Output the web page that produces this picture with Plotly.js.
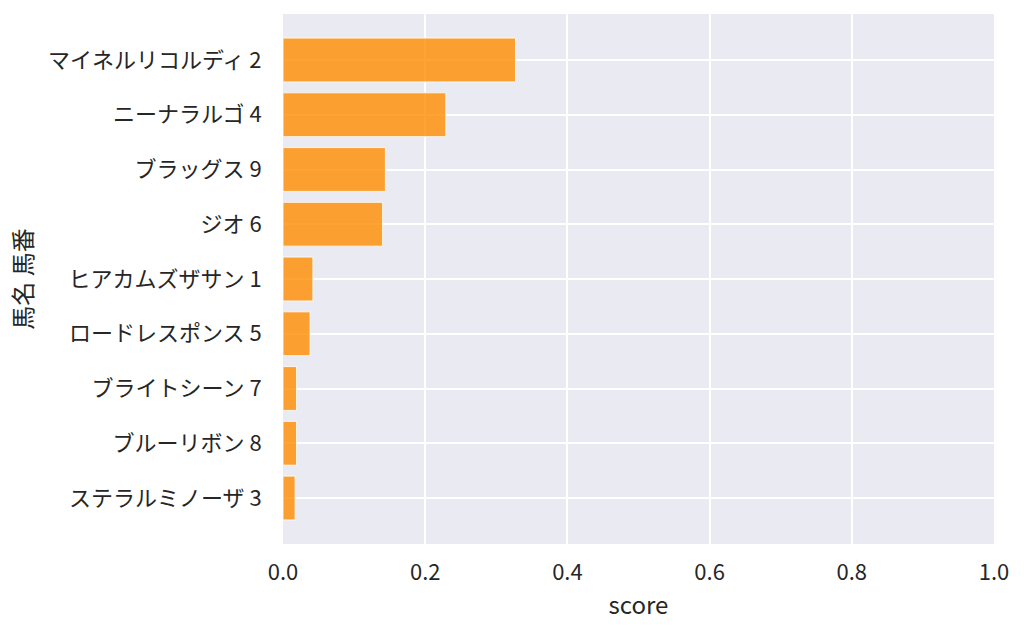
<!DOCTYPE html>
<html>
<head>
<meta charset="utf-8">
<script src="https://cdn.plot.ly/plotly-3.0.1.min.js"></script>
<style>
  html, body { margin: 0; padding: 0; background: #fff; }
  #chart { width: 1024px; height: 634px; }
</style>
</head>
<body>
<div id="chart"></div>
<script>
/* horse score bar chart, seaborn darkgrid look */

const HORSES = ['マイネルリコルディ 2', 'ニーナラルゴ 4', 'ブラッグス 9', 'ジオ 6',
  'ヒアカムズザサン 1', 'ロードレスポンス 5', 'ブライトシーン 7', 'ブルーリボン 8',
  'ステラルミノーザ 3'];
const SCORES = [0.327, 0.229, 0.144, 0.140, 0.042, 0.038, 0.019, 0.019, 0.017];
const X_TICKS = [0, 0.2, 0.4, 0.6, 0.8, 1.0];
const X_TICK_TEXT = ['0.0', '0.2', '0.4', '0.6', '0.8', '1.0'];

const FONT = '"Noto Sans CJK JP", "Noto Sans", sans-serif';
const TEXT = '#262626';

const trace = {
  type: 'bar', orientation: 'h',
  x: SCORES, y: HORSES.map((_, i) => i),
  width: 0.8,
  marker: { color: 'rgba(255,140,0,0.8)', line: { color: 'rgba(255,255,255,0.8)', width: 1 } },
  hoverinfo: 'x+text', text: HORSES, textposition: 'none',
};

const layout = {
  width: 1024, height: 634,
  paper_bgcolor: '#ffffff',
  plot_bgcolor: '#eaeaf2',
  font: { family: FONT, color: TEXT, size: 22 },
  margin: { l: 283, r: 30, t: 14, b: 90 },
  showlegend: false,
  xaxis: {
    range: [0, 1.0], tickvals: X_TICKS, ticktext: X_TICK_TEXT,
    showgrid: true, gridcolor: '#ffffff', gridwidth: 2,
    zeroline: false, showline: false,
    ticks: 'outside', ticklen: 9, tickcolor: 'rgba(0,0,0,0)',
    tickfont: { size: 22, color: TEXT },
    title: { text: 'score', font: { size: 24, color: TEXT }, standoff: 11 },
  },
  yaxis: {
    range: [8.84, -0.84],
    tickvals: HORSES.map((_, i) => i), ticktext: HORSES,
    showgrid: true, gridcolor: '#ffffff', gridwidth: 2,
    zeroline: false, showline: false,
    ticks: 'outside', ticklen: 16, tickcolor: 'rgba(0,0,0,0)',
    tickfont: { size: 22, color: TEXT },
    title: { text: '馬名 馬番', font: { size: 24, color: TEXT }, standoff: 8 },
  },
};

Plotly.newPlot('chart', [trace], layout, { displayModeBar: false, staticPlot: true });
</script>
</body>
</html>
